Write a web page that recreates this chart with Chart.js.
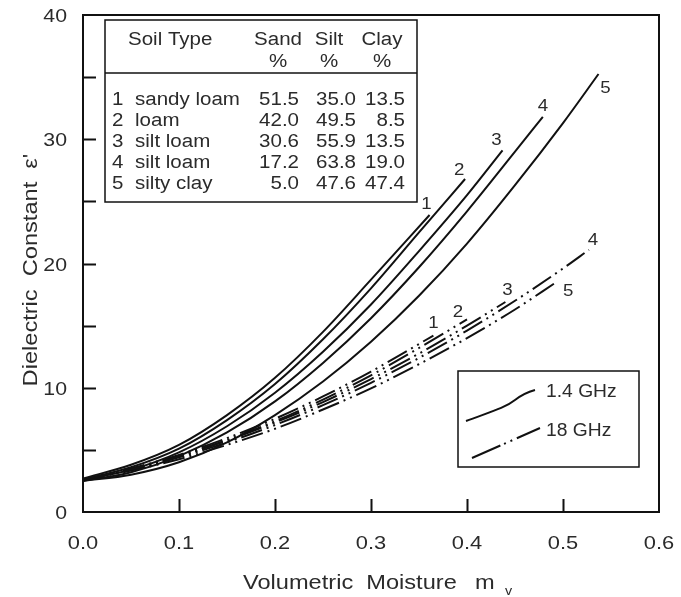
<!DOCTYPE html>
<html>
<head>
<meta charset="utf-8">
<script src="https://cdn.jsdelivr.net/npm/chart.js@4.4.1/dist/chart.umd.min.js"></script>
<style>
  html, body { margin: 0; padding: 0; background: #fff; }
  #wrap { width: 681px; height: 597px; }
</style>
</head>
<body>
<div id="wrap"><canvas id="chart" width="681" height="597"></canvas></div>
<script>
const FONT = '"Liberation Sans", Arial, Helvetica, sans-serif';
const INK = '#111';
const TEXT = '#2b2b2b';

// moisture grid (m_v); each curve follows it and then ends at its own last moisture
const mvGrid = [0, 0.05, 0.1, 0.15, 0.2, 0.25, 0.3, 0.35, 0.4, 0.45, 0.5];

// 1.4 GHz (solid)
const mvEnd14 = [0.361, 0.398, 0.437, 0.479, 0.537];
const eps14_1 = [2.7, 3.8, 5.4, 7.8, 10.8, 14.5, 18.7, 23.9];
const eps14_2 = [2.6, 3.6, 5.1, 7.4, 10.3, 13.9, 18.0, 22.5, 26.8];
const eps14_3 = [2.6, 3.4, 4.8, 6.9, 9.6, 12.9, 16.7, 21.0, 25.5, 29.1];
const eps14_4 = [2.5, 3.2, 4.5, 6.4, 8.9, 12.0, 15.6, 19.7, 24.2, 29.0, 31.8];
const eps14_5 = [2.5, 3.0, 4.0, 5.6, 7.8, 10.5, 13.7, 17.4, 21.6, 26.3, 31.3, 35.25];

// 18 GHz (dash-dot-dot)
const mvEnd18 = [0.365, 0.40, 0.44, 0.527, 0.493];
const eps18_1 = [2.6, 3.5, 4.6, 5.95, 7.5, 9.3, 11.3, 14.2];
const eps18_2 = [2.6, 3.45, 4.5, 5.8, 7.3, 9.05, 11.0, 13.2, 15.5];
const eps18_3 = [2.6, 3.45, 4.5, 5.75, 7.2, 8.85, 10.7, 12.75, 15.0, 16.9];
const eps18_4 = [2.6, 3.4, 4.4, 5.6, 7.0, 8.6, 10.4, 12.4, 14.6, 17.0, 19.6, 21.1];
const eps18_5 = [2.6, 3.33, 4.25, 5.4, 6.7, 8.25, 9.95, 11.9, 14.0, 16.3, 18.5];

// soil table
const soilNums = ['1', '2', '3', '4', '5'];
const soilTypes = ['sandy loam', 'loam', 'silt loam', 'silt loam', 'silty clay'];
const sandPct = ['51.5', '42.0', '30.6', '17.2', '5.0'];
const siltPct = ['35.0', '49.5', '55.9', '63.8', '47.6'];
const clayPct = ['13.5', '8.5', '13.5', '19.0', '47.4'];

const DASH18 = [22, 5, 2, 5, 2, 5];

function pts(eps, end){
  return eps.map((e, i) => ({ x: i < eps.length - 1 ? mvGrid[i] : end, y: e }));
}

const curves14 = [eps14_1, eps14_2, eps14_3, eps14_4, eps14_5];
const curves18 = [eps18_1, eps18_2, eps18_3, eps18_4, eps18_5];

// label offsets (px) from each curve's end
const labOff14 = [[-3, -11], [-6, -9], [-6, -10], [0, -11], [7, 14]];
const labOff18 = [[0, -12], [-9, -7], [2, -12], [4, -10], [12, 9]];

const datasets = [];
curves14.forEach((eps, i) => datasets.push({
  label: '1.4 GHz ' + soilNums[i],
  data: pts(eps, mvEnd14[i]),
  borderColor: INK, borderWidth: 2, pointRadius: 0,
  cubicInterpolationMode: 'monotone', fill: false
}));
curves18.forEach((eps, i) => datasets.push({
  label: '18 GHz ' + soilNums[i],
  data: pts(eps, mvEnd18[i]),
  borderColor: INK, borderWidth: 2, pointRadius: 0, borderDash: DASH18,
  cubicInterpolationMode: 'monotone', fill: false
}));

// the scanned figure's lettering is a little wider than the font, so stretch it
function sText(ctx, str, x, y, align, sx){
  ctx.save();
  ctx.translate(x, y);
  ctx.scale(sx, 1);
  ctx.textAlign = align;
  ctx.fillText(str, 0, 0);
  ctx.restore();
}

const decor = {
  id: 'decor',
  afterDraw(chart){
    const { ctx, chartArea: a, scales: { x, y } } = chart;
    ctx.save();
    // frame
    ctx.strokeStyle = INK;
    ctx.lineWidth = 2;
    ctx.strokeRect(a.left, a.top, a.right - a.left, a.bottom - a.top);
    // inward ticks
    ctx.beginPath();
    for(let v = 0.1; v < 0.59; v += 0.1){
      const px = Math.round(x.getPixelForValue(v)) + 0.5;
      ctx.moveTo(px, a.bottom); ctx.lineTo(px, a.bottom - 13);
    }
    for(let v = 5; v < 40; v += 5){
      const py = Math.round(y.getPixelForValue(v)) + 0.5;
      ctx.moveTo(a.left, py); ctx.lineTo(a.left + 13, py);
    }
    ctx.stroke();

    ctx.fillStyle = TEXT;
    ctx.textBaseline = 'middle';

    // tick labels
    ctx.font = '19px ' + FONT;
    x.ticks.forEach(t => sText(ctx, t.value.toFixed(1), x.getPixelForValue(t.value), a.bottom + 32, 'center', 1.15));
    y.ticks.forEach(t => sText(ctx, String(t.value), a.left - 16, y.getPixelForValue(t.value) + 2, 'right', 1.12));

    // curve labels
    ctx.font = '17px ' + FONT;
    chart.data.datasets.forEach((ds, i) => {
      const last = ds.data[ds.data.length - 1];
      const off = i < 5 ? labOff14[i] : labOff18[i - 5];
      sText(ctx, soilNums[i % 5], x.getPixelForValue(last.x) + off[0], y.getPixelForValue(last.y) + off[1], 'center', 1.1);
    });

    // soil table
    ctx.lineWidth = 1.5;
    ctx.strokeRect(105, 20, 312, 182);
    ctx.beginPath(); ctx.moveTo(105, 73); ctx.lineTo(417, 73); ctx.stroke();
    ctx.font = '18px ' + FONT;
    const SX = 1.14;
    sText(ctx, 'Soil Type', 128, 40, 'left', SX);
    [['Sand', 278], ['Silt', 329], ['Clay', 382]].forEach(([t, cx]) => {
      sText(ctx, t, cx, 40, 'center', SX);
      sText(ctx, '%', cx, 62, 'center', SX);
    });
    soilNums.forEach((n, i) => {
      const ry = 100 + i * 21;
      sText(ctx, n, 112, ry, 'left', SX);
      sText(ctx, soilTypes[i], 135, ry, 'left', SX);
      sText(ctx, sandPct[i], 299, ry, 'right', SX);
      sText(ctx, siltPct[i], 356, ry, 'right', SX);
      sText(ctx, clayPct[i], 405, ry, 'right', SX);
    });

    // frequency legend
    ctx.lineWidth = 1.5;
    ctx.strokeRect(458, 371, 181, 96);
    sText(ctx, '1.4 GHz', 546, 392, 'left', 1.07);
    sText(ctx, '18 GHz', 546, 431, 'left', 1.07);
    ctx.lineWidth = 2;
    ctx.beginPath();
    ctx.moveTo(466, 421);
    ctx.bezierCurveTo(490, 412, 505, 408, 515, 400);
    ctx.quadraticCurveTo(524, 393, 535, 390);
    ctx.stroke();
    ctx.setLineDash([31, 4, 2, 5, 2, 5]);
    ctx.beginPath();
    ctx.moveTo(472, 458);
    ctx.lineTo(540, 428);
    ctx.stroke();
    ctx.setLineDash([]);

    // axis titles
    ctx.font = '20px ' + FONT;
    sText(ctx, 'Volumetric  Moisture', 243, 583, 'left', 1.18);
    sText(ctx, 'm', 475, 583, 'left', 1.18);
    ctx.font = '13px ' + FONT;
    sText(ctx, 'v', 505, 591, 'left', 1.1);
    ctx.save();
    ctx.translate(31, 270);
    ctx.rotate(-Math.PI / 2);
    ctx.font = '20px ' + FONT;
    sText(ctx, "Dielectric  Constant  \u03B5'", 0, 0, 'center', 1.18);
    ctx.restore();

    ctx.restore();
  }
};

new Chart(document.getElementById('chart'), {
  type: 'line',
  data: { datasets },
  options: {
    responsive: false,
    animation: false,
    layout: { padding: { top: 15, right: 22, left: 0, bottom: 0 } },
    plugins: { legend: { display: false }, tooltip: { enabled: false } },
    scales: {
      x: {
        type: 'linear', min: 0, max: 0.6,
        grid: { display: false, drawTicks: false },
        border: { display: false },
        afterFit: s => { s.height = 85; },
        ticks: { stepSize: 0.1, display: false }
      },
      y: {
        min: 0, max: 40,
        grid: { display: false, drawTicks: false },
        border: { display: false },
        afterFit: s => { s.width = 83; },
        ticks: { stepSize: 10, display: false }
      }
    }
  },
  plugins: [decor]
});
</script>
</body>
</html>
